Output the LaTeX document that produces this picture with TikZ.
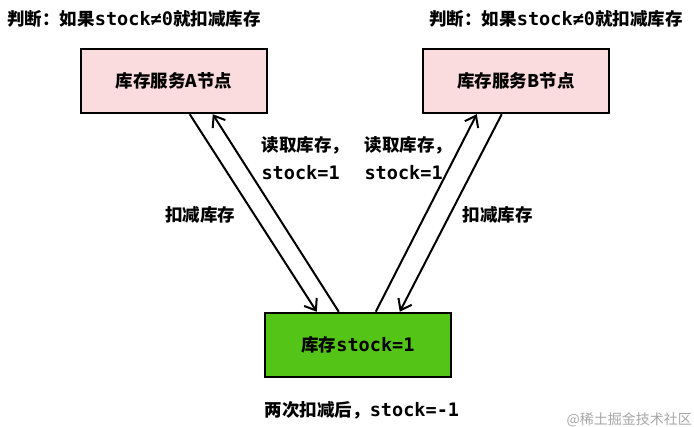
\documentclass[tikz,border=0pt]{standalone}
\usepackage{fontspec}
\setmainfont{Noto Sans CJK SC}
\newfontfamily\mono[Scale=1.06]{DejaVu Sans Mono}
\usetikzlibrary{positioning,arrows.meta}
\definecolor{pinkbox}{RGB}{250,220,222}
\definecolor{greenbox}{RGB}{84,196,22}

\begin{document}
\begin{tikzpicture}[x=1pt, y=-1pt, font=\fontsize{17.5}{28}\selectfont\bfseries,
    svc/.style={draw, line width=2.5pt, fill=pinkbox, minimum width=186pt, minimum height=64pt},
    store/.style={draw, line width=2.5pt, fill=greenbox, minimum width=186pt, minimum height=64pt},
    flow/.style={line width=2pt, -{Straight Barb[length=10pt, width=15pt, line width=2pt]}}]
    \useasboundingbox (0,0) rectangle (694,427);

    \node(A) [svc] at (174,81) {库存服务A节点};
    \node(B) [svc] at (516,81) {库存服务B节点};
    \node(S) [store] at (358,345) {库存{\mono stock=1}};

    \node(judgeA) at (134,19) {判断：如果{\mono stock≠0}就扣减库存};
    \node(judgeB) at (556,19) {判断：如果{\mono stock≠0}就扣减库存};
    \node(res) at (362,410) {两次扣减后，{\mono stock=-1}};
    \node(mark) [anchor=east, inner sep=1pt, text=black!35, font=\fontsize{14}{16}\selectfont] at (693,420) {@稀土掘金技术社区};

    \node(readA) [anchor=west, align=left] at (258,158) {读取库存，\\{\mono stock=1}};
    \node(readB) [anchor=west, align=left] at (361,158) {读取库存，\\{\mono stock=1}};
    \node(decA) at (200,215) {扣减库存};
    \node(decB) [anchor=west] at (459,215) {扣减库存};

    \draw[flow] ([xshift=110pt]A.south west) -- ([xshift=53pt]S.north west);
    \draw[flow] ([xshift=75pt]S.north west) -- ([xshift=133pt]A.south west);
    \draw[flow] ([xshift=112pt]S.north west) -- ([xshift=55pt]B.south west);
    \draw[flow] ([xshift=80pt]B.south west) -- ([xshift=136pt]S.north west);
\end{tikzpicture}
\end{document}
